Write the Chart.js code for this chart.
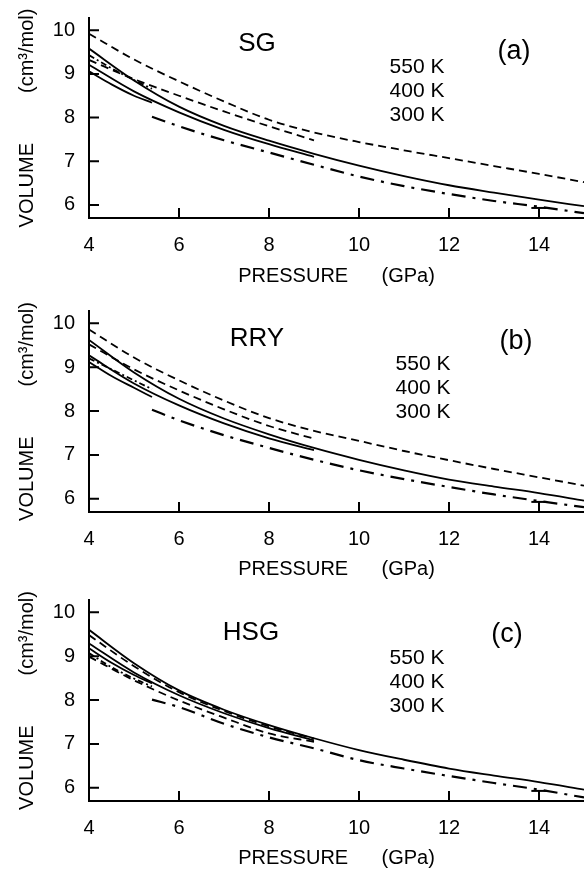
<!DOCTYPE html>
<html>
<head>
<meta charset="utf-8">
<script src="https://cdn.jsdelivr.net/npm/chart.js@4.4.0/dist/chart.umd.min.js"></script>
<style>
  html, body { margin: 0; padding: 0; background: #fff; overflow: hidden; }
  .panel { position: absolute; left: 0; width: 584px; height: 290px; }
</style>
</head>
<body>
<div class="panel" style="top:0px"><canvas id="chartA" width="584" height="290"></canvas></div>
<div class="panel" style="top:293px"><canvas id="chartB" width="584" height="290"></canvas></div>
<div class="panel" style="top:582px"><canvas id="chartC" width="584" height="290"></canvas></div>
<script>
//Pressure grids (GPa) used by the curves
const pFull = [4, 5, 6, 7, 8, 9, 10, 11, 12, 13, 14, 15];
const pMid = [4, 5, 6, 7, 8, 9];
const pShort = [4, 4.5, 5, 5.4];
const pDashDot = [5.4, 6, 7, 8, 9, 10, 11, 12, 13, 14, 15];

//Axis ticks
const xTicks = [4, 6, 8, 10, 12, 14];
const yTicks = [6, 7, 8, 9, 10];
const tempLabels = ["550 K", "400 K", "300 K"];

//error bar at 14 GPa
const errX = [13.83, 14.17];
const errY = [5.93, 5.93];

//Volumes (cm3/mol) - SG
const sgDashLong = [9.92, 9.33, 8.83, 8.37, 7.95, 7.66, 7.44, 7.25, 7.07, 6.89, 6.71, 6.52];
const sgSolidLong = [9.58, 8.85, 8.25, 7.81, 7.47, 7.17, 6.90, 6.66, 6.45, 6.28, 6.12, 5.97];
const sgDashMid = [9.32, 8.88, 8.50, 8.14, 7.80, 7.48];
const sgSolidMid = [9.21, 8.60, 8.12, 7.72, 7.39, 7.10];
const sgDashShort = [9.43, 9.13, 8.86, 8.66];
const sgSolidShort = [9.06, 8.76, 8.50, 8.34];
const sgDashDot = [8.02, 7.80, 7.48, 7.20, 6.92, 6.65, 6.43, 6.25, 6.09, 5.96, 5.81];

//Volumes - RRY
const rryDashLong = [9.86, 9.22, 8.70, 8.24, 7.84, 7.55, 7.32, 7.09, 6.88, 6.68, 6.49, 6.30];
const rrySolidLong = [9.62, 8.88, 8.28, 7.83, 7.47, 7.16, 6.89, 6.65, 6.44, 6.28, 6.13, 5.96];
const rryDashMid = [9.52, 8.95, 8.47, 8.04, 7.66, 7.37];
const rrySolidMid = [9.27, 8.63, 8.13, 7.72, 7.38, 7.11];
const rryDashShort = [9.20, 8.95, 8.70, 8.50];
const rrySolidShort = [9.12, 8.80, 8.53, 8.32];
const rryDashDot = [8.03, 7.79, 7.45, 7.16, 6.89, 6.65, 6.45, 6.27, 6.10, 5.95, 5.81];

//Volumes - HSG
const hsgSolidLong = [9.60, 8.84, 8.22, 7.78, 7.43, 7.13, 6.86, 6.64, 6.44, 6.28, 6.13, 5.96];
const hsgDashUpper = [9.48, 8.77, 8.18, 7.75, 7.40, 7.12];
const hsgSolidMid = [9.29, 8.63, 8.11, 7.70, 7.36, 7.08];
const hsgDashLower = [8.99, 8.45, 7.99, 7.60, 7.24, 7.05];
const hsgSolidShort = [9.18, 8.85, 8.57, 8.38];
const hsgDashShort = [9.07, 8.75, 8.49, 8.31];
const hsgDashDot = [8.01, 7.84, 7.46, 7.15, 6.90, 6.63, 6.44, 6.27, 6.11, 5.96, 5.78];

const FONT = '"Liberation Sans", Arial, sans-serif';

//line styles
const SOLID = [];
const DASH = [8, 5];
const DASH_FINE = [6, 3, 2, 3];
const DASH_DOT = [14, 7, 3, 7];

function curve(xs, ys, dash, width) {
  return {
    data: xs.map((x, i) => ({ x: x, y: ys[i] })),
    borderColor: "#000",
    borderWidth: width || 1.8,
    borderDash: dash,
    pointRadius: 0,
    fill: false,
    cubicInterpolationMode: "monotone",
  };
}

//inward tick marks on both axes
const innerTicks = {
  id: "innerTicks",
  afterDatasetsDraw(chart) {
    const { ctx, chartArea, scales } = chart;
    ctx.save();
    ctx.strokeStyle = "#000";
    ctx.lineWidth = 2;
    ctx.beginPath();
    yTicks.forEach((v) => {
      const py = scales.y.getPixelForValue(v);
      ctx.moveTo(chartArea.left, py);
      ctx.lineTo(chartArea.left + 10, py);
    });
    xTicks.slice(1).forEach((v) => {
      const px = scales.x.getPixelForValue(v);
      ctx.moveTo(px, chartArea.bottom);
      ctx.lineTo(px, chartArea.bottom - 10);
    });
    ctx.stroke();
    ctx.restore();
  },
};

//labels inside each panel
const panelText = {
  id: "panelText",
  afterDraw(chart, args, opts) {
    const ctx = chart.ctx;
    ctx.save();
    ctx.fillStyle = "#000";
    ctx.textAlign = "center";
    ctx.textBaseline = "middle";
    opts.items.forEach((t) => {
      ctx.font = t.size + "px " + FONT;
      ctx.fillText(t.text, t.x, t.y);
    });
    ctx.restore();
  },
};

function makePanel(canvasId, datasets, texts, padTop) {
  datasets.push(curve(errX, errY, SOLID, 2));
  return new Chart(document.getElementById(canvasId), {
    type: "line",
    plugins: [innerTicks, panelText],
    data: { datasets: datasets },
    options: {
      responsive: false,
      animation: false,
      devicePixelRatio: 1,
      layout: { padding: { top: padTop, right: 0, left: 0, bottom: 0 } },
      plugins: {
        legend: { display: false },
        tooltip: { enabled: false },
        panelText: { items: texts },
      },
      scales: {
        x: {
          type: "linear",
          min: 4,
          max: 15,
          afterBuildTicks: (s) => {
            s.ticks = xTicks.map((v) => ({ value: v }));
          },
          afterFit: (s) => {
            s.height = 290 - padTop - 201;
          },
          grid: { display: false },
          border: { display: true, color: "#000", width: 2 },
          ticks: {
            color: "#000",
            font: { family: FONT, size: 20 },
            padding: 7,
            maxRotation: 0,
            autoSkip: false,
          },
          title: {
            display: true,
            text: "PRESSURE      (GPa)",
            color: "#000",
            font: { family: FONT, size: 20 },
            padding: { top: 0, bottom: 2 },
          },
        },
        y: {
          type: "linear",
          min: 5.7,
          max: 10.28,
          afterBuildTicks: (s) => {
            s.ticks = yTicks.map((v) => ({ value: v }));
          },
          afterFit: (s) => {
            s.width = 89;
          },
          grid: { display: false },
          border: { display: true, color: "#000", width: 2 },
          ticks: {
            color: "#000",
            font: { family: FONT, size: 20 },
            padding: 6,
          },
          title: {
            display: true,
            text: "VOLUME         (cm³/mol)",
            color: "#000",
            font: { family: FONT, size: 20 },
            padding: { top: 15, bottom: 0 },
          },
        },
      },
    },
  });
}

function labelsFor(name, nameX, nameY, tag, tagX, tagY, tempX, tempY) {
  const items = [
    { text: name, x: nameX, y: nameY, size: 26 },
    { text: tag, x: tagX, y: tagY, size: 27 },
  ];
  tempLabels.forEach((t, i) => {
    items.push({ text: t, x: tempX, y: tempY + i * 24, size: 21 });
  });
  return items;
}

window.addEventListener("DOMContentLoaded", function () {
  makePanel(
    "chartA",
    [
      curve(pFull, sgDashLong, DASH),
      curve(pFull, sgSolidLong, SOLID),
      curve(pMid, sgDashMid, DASH),
      curve(pMid, sgSolidMid, SOLID),
      curve(pShort, sgDashShort, DASH_FINE),
      curve(pShort, sgSolidShort, SOLID),
      curve(pDashDot, sgDashDot, DASH_DOT, 2.2),
    ],
    labelsFor("SG", 257, 44, "(a)", 514, 52, 417, 67),
    17
  );
  makePanel(
    "chartB",
    [
      curve(pFull, rryDashLong, DASH),
      curve(pFull, rrySolidLong, SOLID),
      curve(pMid, rryDashMid, DASH),
      curve(pMid, rrySolidMid, SOLID),
      curve(pShort, rryDashShort, DASH_FINE),
      curve(pShort, rrySolidShort, SOLID),
      curve(pDashDot, rryDashDot, DASH_DOT, 2.2),
    ],
    labelsFor("RRY", 257, 46, "(b)", 516, 49, 423, 71),
    18
  );
  makePanel(
    "chartC",
    [
      curve(pFull, hsgSolidLong, SOLID),
      curve(pMid, hsgDashUpper, DASH),
      curve(pMid, hsgSolidMid, SOLID),
      curve(pMid, hsgDashLower, DASH),
      curve(pShort, hsgSolidShort, SOLID),
      curve(pShort, hsgDashShort, DASH_FINE),
      curve(pDashDot, hsgDashDot, DASH_DOT, 2.2),
    ],
    labelsFor("HSG", 251, 51, "(c)", 507, 53, 417, 76),
    18
  );
});
</script>
</body>
</html>
